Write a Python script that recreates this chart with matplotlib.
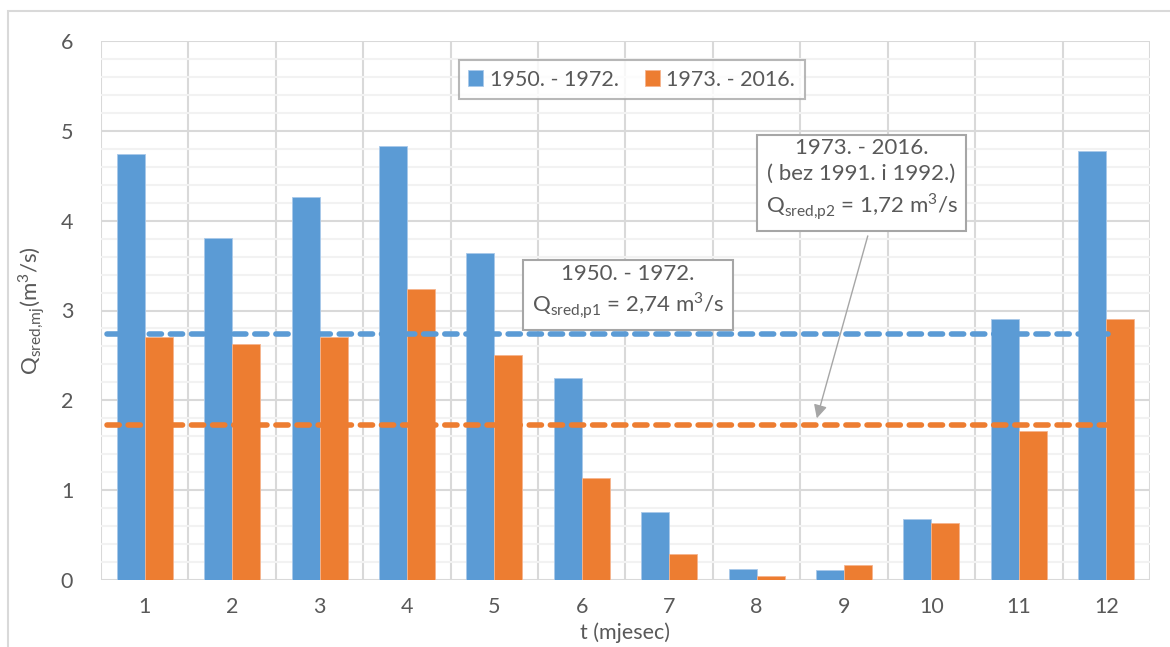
import numpy as np
import matplotlib.pyplot as plt
from matplotlib.patches import Rectangle

plt.rcParams['font.family'] = ['Lato', 'DejaVu Sans']
plt.rcParams['mathtext.fontset'] = 'custom'
plt.rcParams['mathtext.rm'] = 'Lato'

# podaci (srednji mjesečni protoci)
mjeseci = list(range(1, 13))
q_1950_1972 = [4.74, 3.81, 4.26, 4.83, 3.64, 2.25, 0.76, 0.12, 0.11, 0.68, 2.91, 4.77]
q_1973_2016 = [2.70, 2.63, 2.70, 3.24, 2.50, 1.14, 0.29, 0.05, 0.17, 0.63, 1.66, 2.91]
q_sred_p1 = 2.74
q_sred_p2 = 1.72
legenda = ['1950. - 1972.', '1973. - 2016.']

plava = '#5B9BD5'
narancasta = '#ED7D31'
siva = '#595959'

fig = plt.figure(figsize=(11.7, 6.47), dpi=100)
ax = fig.add_axes([101 / 1170, 1 - 580 / 647, 1049 / 1170, 539 / 647])

# okvir grafikona
fig.patches.append(Rectangle((8 / 1170, -0.1), 1.2, 1 - 11 / 647 + 0.1,
                             transform=fig.transFigure, fill=False,
                             edgecolor='#D9D9D9', linewidth=1.5, zorder=0))

x = np.array(mjeseci)
w = 0.32
ax.bar(x - w / 2, q_1950_1972, w, color=plava, edgecolor='#A9C9EA', linewidth=0.6,
       label=legenda[0], zorder=3)
ax.bar(x + w / 2, q_1973_2016, w, color=narancasta, edgecolor='#F5B48E', linewidth=0.6,
       label=legenda[1], zorder=3)

# srednji protoci
ax.plot([0.57, 12.02], [q_sred_p1] * 2, color=plava, linewidth=4, dashes=(2.2, 1.6),
        dash_capstyle='round', zorder=4)
ax.plot([0.57, 12.02], [q_sred_p2] * 2, color=narancasta, linewidth=4, dashes=(2.2, 1.6),
        dash_capstyle='round', zorder=4)

ax.set_xlim(0.5, 12.5)
ax.set_ylim(0, 6)
ax.set_xticks(mjeseci)
ax.set_yticks(range(7))
ax.set_yticks(np.arange(0, 6.01, 0.2), minor=True)
ax.set_xticks(np.arange(0.5, 12.6, 1), minor=True)
ax.grid(which='major', axis='y', color='#D9D9D9', linewidth=1.5, zorder=0)
ax.grid(which='minor', axis='y', color='#F2F2F2', linewidth=1.5, zorder=0)
ax.grid(which='minor', axis='x', color='#D9D9D9', linewidth=1.5, zorder=0)
ax.tick_params(which='both', length=0)
ax.tick_params(axis='x', pad=12)
ax.tick_params(axis='y', pad=20)
for s in ax.spines.values():
    s.set_visible(False)
ax.tick_params(labelsize=15.5, labelcolor=siva)

ax.set_xlabel('t (mjesec)', fontsize=15.5, color=siva, labelpad=4)
ax.set_ylabel(r'Q$_{\mathregular{sred{,}mj}}$(m$^{\mathregular{3}}$/s)', fontsize=16,
              color=siva, labelpad=10)

leg = ax.legend(loc='upper center', bbox_to_anchor=(0.506, 0.985), ncol=2, fontsize=15.5,
                frameon=True, fancybox=False, edgecolor='#A6A6A6', handlelength=0.7,
                handleheight=0.7, handletextpad=0.3, columnspacing=1.2, borderpad=0.45)
leg.get_frame().set_linewidth(1.5)
for t in leg.get_texts():
    t.set_color(siva)

okvir = dict(boxstyle='square,pad=0.4', facecolor='white', edgecolor='#A6A6A6', linewidth=1.5)
ax.text(6.53, 3.20, '1950. - 1972.\n' +
        r'Q$_{\mathregular{sred{,}p1}}$ = 2,74 m$^{\mathregular{3}}$/s',
        ha='center', va='center', fontsize=16, color=siva, linespacing=1.3,
        bbox=okvir, zorder=6)
ax.text(9.20, 4.45, '1973. - 2016.\n( bez 1991. i 1992.)\n' +
        r'Q$_{\mathregular{sred{,}p2}}$ = 1,72 m$^{\mathregular{3}}$/s',
        ha='center', va='center', fontsize=16, color=siva, linespacing=1.35,
        bbox=okvir, zorder=6)
ax.annotate('', xy=(8.68, 1.77), xytext=(9.28, 3.86),
            arrowprops=dict(arrowstyle='-|>', color='#A6A6A6', lw=1, mutation_scale=20),
            zorder=5)

fig.savefig('out.png', dpi=100)
